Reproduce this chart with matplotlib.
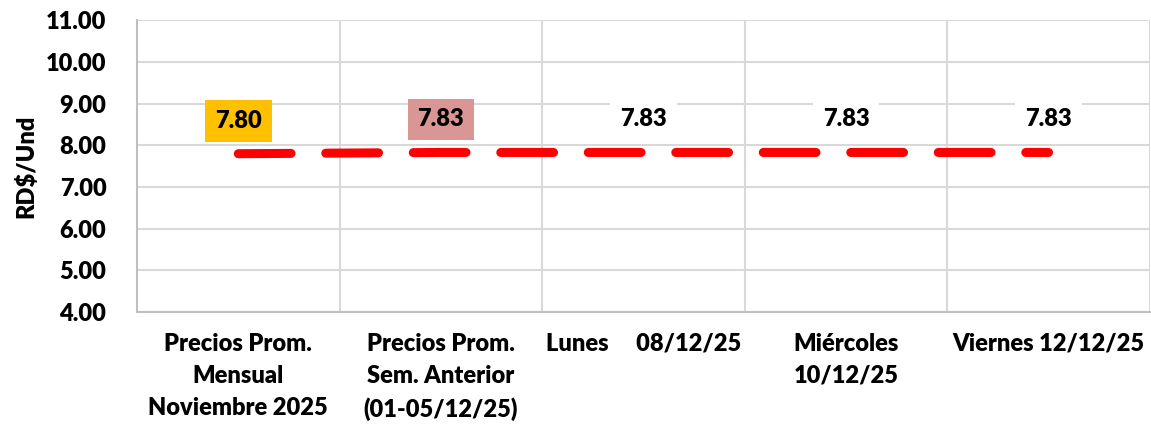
import matplotlib.pyplot as plt
from matplotlib.ticker import FixedLocator

plt.rcParams['font.family'] = ['Lato', 'DejaVu Sans']
plt.rcParams['font.weight'] = 'bold'
plt.rcParams['lines.scale_dashes'] = False

categories = [
    'Precios Prom.\nMensual\nNoviembre 2025',
    'Precios Prom.\nSem. Anterior\n(01-05/12/25)',
    'Lunes     08/12/25',
    'Miércoles\n10/12/25',
    'Viernes 12/12/25',
]
prices = [7.80, 7.83, 7.83, 7.83, 7.83]
label_colors = ['#FFC000', '#DA9694', 'white', 'white', 'white']

fig = plt.figure(figsize=(11.51, 4.24), dpi=100)
ax = fig.add_axes([0.119, 0.264, 0.880, 0.688])

x = list(range(len(categories)))
ax.plot(x, prices, color='#FF0000', linewidth=6.5, linestyle=(0, (38, 25)),
        dash_capstyle='round', solid_capstyle='round', zorder=3)

for xi, val, fc in zip(x, prices, label_colors):
    ax.annotate(f'{val:.2f}', (xi, val), xytext=(0, 33), textcoords='offset pixels',
                ha='center', va='center', fontsize=17, fontweight='heavy', color='black',
                bbox=dict(boxstyle='square,pad=0.42', fc=fc, ec='none'), zorder=4)

ax.set_xlim(-0.5, len(categories) - 0.5)
ax.set_ylim(4, 11)
ax.set_yticks([4, 5, 6, 7, 8, 9, 10, 11])
ax.set_yticklabels([f'{v:.2f}' for v in range(4, 12)], fontsize=17, fontweight='heavy')
ax.set_xticks(x)
ax.set_xticklabels(categories, fontsize=17, fontweight='heavy', linespacing=1.55, va='top')
ax.xaxis.set_minor_locator(FixedLocator([i + 0.5 for i in x]))

ax.tick_params(axis='x', which='major', length=0, pad=15)
ax.tick_params(axis='y', length=0, pad=22)
ax.tick_params(axis='x', which='minor', length=0)
ax.grid(axis='y', color='#D9D9D9', linewidth=1.5)
ax.grid(axis='x', which='minor', color='#D9D9D9', linewidth=1.5)
ax.set_axisbelow(True)

for side in ['top', 'right']:
    ax.spines[side].set_visible(False)
ax.spines['left'].set_color('#BFBFBF')
ax.spines['bottom'].set_color('#BFBFBF')
ax.spines['left'].set_linewidth(1.5)
ax.spines['bottom'].set_linewidth(1.5)

ax.set_ylabel('RD$/Und', fontsize=17, fontweight='heavy', labelpad=6)

fig.savefig('out.png', dpi=100)
